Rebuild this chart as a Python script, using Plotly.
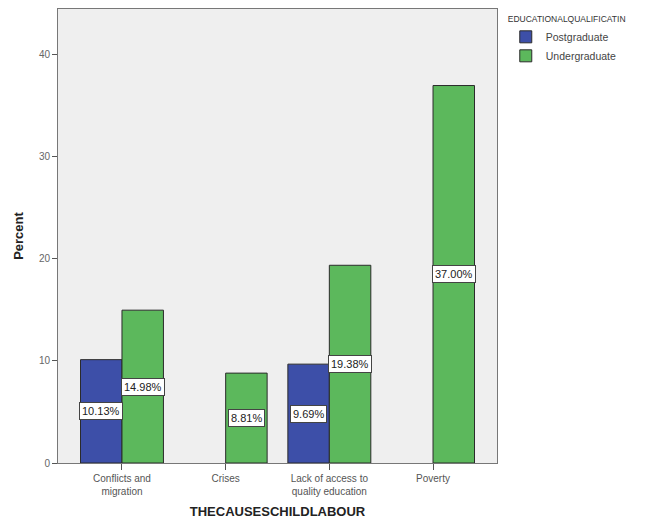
import plotly.graph_objects as go

categories = ["Conflicts and<br>migration", "Crises", "Lack of access to<br>quality education", "Poverty"]
postgraduate = [10.13, None, 9.69, None]
undergraduate = [14.98, 8.81, 19.38, 37.00]
y_ticks = [0, 10, 20, 30, 40]

FONT = "Liberation Sans, Arial, sans-serif"
blue = "#3D4FA8"
green = "#5CB85C"

fig = go.Figure()
fig.add_trace(go.Bar(x=categories, y=postgraduate, name="Postgraduate",
                     marker=dict(color=blue, line=dict(color="#2b2b2b", width=1))))
fig.add_trace(go.Bar(x=categories, y=undergraduate, name="Undergraduate",
                     marker=dict(color=green, line=dict(color="#2b2b2b", width=1))))

annotations = []
for series, off in ((postgraduate, -0.2), (undergraduate, 0.2)):
    for i, v in enumerate(series):
        if v is None:
            continue
        annotations.append(dict(x=i + off, y=v / 2, xref="x", yref="y",
                                text=f"{v:.2f}%", showarrow=False,
                                font=dict(family=FONT, size=11, color="#222"),
                                bgcolor="white", bordercolor="#444", borderwidth=1,
                                borderpad=2))

fig.update_layout(
    width=645, height=525,
    margin=dict(l=58, r=148, t=9, b=62),
    paper_bgcolor="white", plot_bgcolor="#EFEFEF",
    barmode="group", bargap=0.2, bargroupgap=0,
    font=dict(family=FONT, size=10, color="#555"),
    legend=dict(x=1.02, y=0.995, xanchor="left", yanchor="top",
                title=dict(text="EDUCATIONALQUALIFICATIN", font=dict(size=8.5, color="#333")),
                font=dict(size=10.5, color="#444"), itemwidth=30,
                tracegroupgap=0, bgcolor="rgba(0,0,0,0)"),
    annotations=annotations,
    showlegend=True,
)
fig.update_xaxes(range=[-0.617, 3.617], showgrid=False, ticks="outside", ticklen=6,
                 tickcolor="#555", showline=True, linecolor="#777", linewidth=1, mirror=True,
                 title=dict(text="<b>THECAUSESCHILDLABOUR</b>", font=dict(size=13, color="#222"),
                            standoff=10),
                 tickfont=dict(size=10, color="#555"))
fig.update_yaxes(range=[0, 44.5], tickvals=y_ticks, showgrid=False, zeroline=False,
                 ticks="outside", ticklen=5, tickcolor="#555", showline=True, linecolor="#777",
                 linewidth=1, mirror=True,
                 title=dict(text="<b>Percent</b>", font=dict(size=13, color="#222"), standoff=12),
                 tickfont=dict(size=10, color="#666"))

fig.write_html("out.html")
